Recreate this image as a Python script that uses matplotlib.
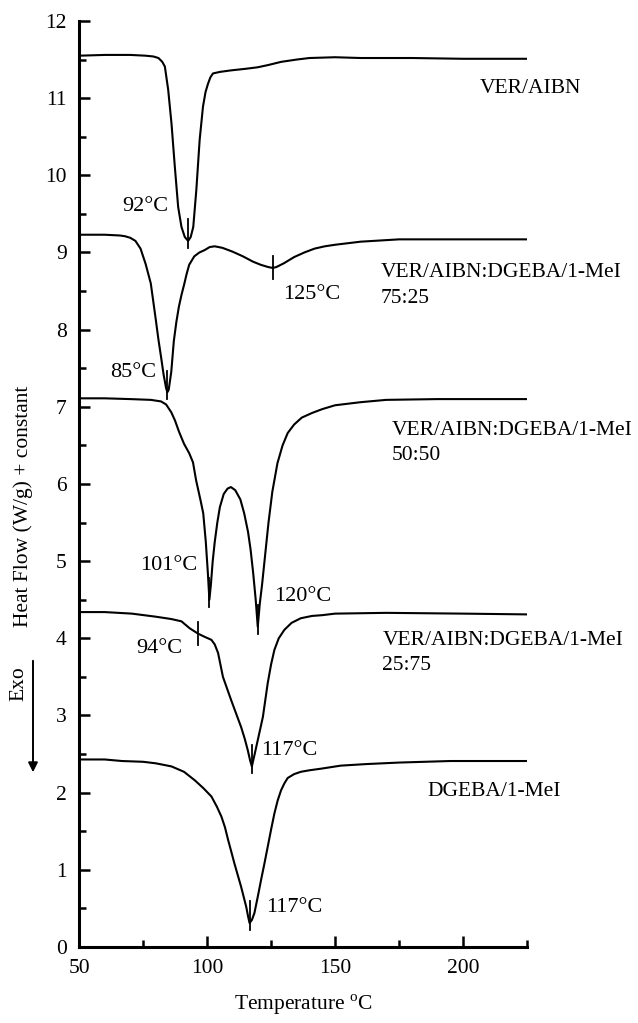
import numpy as np
import matplotlib
matplotlib.use("Agg")
import matplotlib.pyplot as plt

plt.rcParams['font.family'] = ['Liberation Serif', 'DejaVu Serif']
plt.rcParams['mathtext.fontset'] = 'custom'
plt.rcParams['mathtext.rm'] = 'Liberation Serif'

# --- curves (temperature, heat flow + constant) ---
t_ver = [50, 60, 70, 76, 79, 81, 82.5, 83.5, 84.8, 86.1, 87.4, 88.7, 90, 91.3, 92.6, 93.6, 94.6, 95.8,
         97.1, 98.4, 99.4, 100.4, 101.3, 102.3, 105, 109.4, 115, 119.8, 124, 128.9, 135, 140, 150, 160,
         180, 200, 225]
hf_ver = [11.55, 11.56, 11.56, 11.55, 11.54, 11.52, 11.47, 11.41, 11.11, 10.67, 10.11, 9.59, 9.33, 9.2,
          9.15, 9.2, 9.33, 9.81, 10.46, 10.89, 11.08, 11.19, 11.27, 11.32, 11.34, 11.36, 11.38, 11.40, 11.43,
          11.47, 11.5, 11.52, 11.53, 11.52, 11.52, 11.51, 11.51]

t_75 = [50, 60, 66, 68, 70, 72, 74, 76, 78, 80, 81, 82, 83, 84, 84.5, 85, 86, 87, 88, 89, 90, 91, 92, 93,
        95, 97, 99, 101, 103, 106, 110, 114, 118, 121, 124, 125.6, 127, 130, 134, 138, 142, 146, 150, 160,
        175, 200, 225]
hf_75 = [9.23, 9.23, 9.22, 9.21, 9.19, 9.15, 9.05, 8.85, 8.6, 8.12, 7.87, 7.65, 7.42, 7.24, 7.19, 7.22, 7.45,
         7.85, 8.1, 8.3, 8.45, 8.58, 8.72, 8.84, 8.95, 9.0, 9.03, 9.07, 9.08, 9.06, 9.01, 8.95, 8.88, 8.84,
         8.81, 8.80, 8.81, 8.86, 8.94, 9.0, 9.05, 9.08, 9.1, 9.14, 9.17, 9.17, 9.17]

t_50 = [50, 60, 70, 78, 82, 84, 86, 87.5, 89, 91, 93, 94.5, 95.7, 97.5, 98.5, 99.5, 100.3, 100.9, 101.5,
        102.2, 103, 104, 105, 106.5, 108, 109.3, 111, 113, 114.5, 116, 117, 118, 119, 119.8, 120.6, 121.5,
        122.5, 124, 125.5, 127.5, 129.5, 131.5, 134, 137, 141, 145, 150, 160, 170, 190, 225]
hf_50 = [7.11, 7.11, 7.10, 7.09, 7.07, 7.03, 6.93, 6.82, 6.68, 6.52, 6.4, 6.28, 6.05, 5.78, 5.62, 5.25, 4.85,
         4.5, 4.7, 5.0, 5.25, 5.5, 5.7, 5.87, 5.94, 5.96, 5.92, 5.8, 5.62, 5.38, 5.15, 4.85, 4.5, 4.15, 4.45,
         4.7, 5.02, 5.5, 5.9, 6.27, 6.5, 6.66, 6.77, 6.86, 6.92, 6.97, 7.02, 7.06, 7.09, 7.1, 7.1]

t_25 = [50, 60, 70.6, 80, 86, 90, 93.2, 96.5, 99, 101.7, 103, 104.3, 106.2, 107.8, 109.4, 111.4, 113.3, 114.7,
        115.9, 116.8, 117.5, 118.6, 119.8, 121.8, 123.7, 125, 126.3, 128, 130.2, 133, 136.6, 141, 145, 150,
        170, 200, 225]
hf_25 = [4.34, 4.34, 4.32, 4.28, 4.25, 4.22, 4.13, 4.06, 4.02, 3.98, 3.92, 3.81, 3.50, 3.35, 3.20, 3.02, 2.85,
         2.70, 2.55, 2.42, 2.34, 2.5, 2.68, 2.98, 3.42, 3.66, 3.85, 4.0, 4.11, 4.2, 4.26, 4.29, 4.3, 4.32, 4.33,
         4.32, 4.31]

t_dg = [50, 60, 66.7, 75, 80, 86.1, 91, 95.2, 98.5, 101.7, 103.8, 105.6, 107, 108.2, 109.5, 110.7, 112,
        113.3, 114.3, 115.3, 116, 116.6, 117.5, 118.5, 119.8, 121.1, 122.4, 123.7, 125, 126.3, 127.6, 128.9,
        130.2, 131.5, 134, 136.6, 140, 144.4, 152.2, 162, 175, 195, 225]
hf_dg = [2.43, 2.43, 2.41, 2.40, 2.38, 2.34, 2.27, 2.16, 2.06, 1.95, 1.82, 1.69, 1.55, 1.39, 1.23, 1.08, 0.93,
         0.78, 0.65, 0.52, 0.4, 0.31, 0.35, 0.44, 0.65, 0.87, 1.08, 1.30, 1.52, 1.73, 1.9, 2.03, 2.12, 2.19,
         2.24, 2.27, 2.29, 2.31, 2.35, 2.37, 2.39, 2.41, 2.41]

# peak markers: (curve index, drawn position, label text)
peak_curve = [0, 1, 1, 2, 2, 3, 3, 4]
peak_pos = [92.6, 84.5, 125.6, 100.9, 119.8, 96.5, 117.5, 116.6]
peak_text = ['92°C', '85°C', '125°C', '101°C', '120°C', '94°C', '117°C', '117°C']
peak_cross = [False, False, True, False, False, True, False, False]

sample_names = ['VER/AIBN', 'VER/AIBN:DGEBA/1-MeI\n75:25', 'VER/AIBN:DGEBA/1-MeI\n50:50',
                'VER/AIBN:DGEBA/1-MeI\n25:75', 'DGEBA/1-MeI']

curves = [(t_ver, hf_ver), (t_75, hf_75), (t_50, hf_50), (t_25, hf_25), (t_dg, hf_dg)]

# label placement (data coords)
peak_lx = [66.7, 62.0, 129.6, 73.7, 126.1, 72.5, 121.1, 123.0]
peak_ly = [9.59, 7.45, 8.45, 4.95, 4.54, 3.87, 2.54, 0.51]
name_lx = [206.6, 167.7, 172.0, 168.5, 186.0]
name_ly = [11.25, 8.86, 6.82, 4.10, 2.14]

fig = plt.figure(figsize=(6.38, 10.23), dpi=100)
ax = fig.add_axes([0.124, 0.0743, 0.702, 0.9052])

for t, hf in curves:
    ax.plot(t, hf, color='black', lw=1.5)

for ci, xp, cross in zip(peak_curve, peak_pos, peak_cross):
    t, hf = curves[ci]
    yp = np.interp(xp, t, hf)
    if cross:
        ax.plot([xp, xp], [yp - 0.15, yp + 0.15], color='black', lw=1.3)
    else:
        ax.plot([xp, xp], [yp - 0.09, yp + 0.28], color='black', lw=1.3)

for txt, lx, ly in zip(peak_text, peak_lx, peak_ly):
    ax.text(lx, ly, txt, fontsize=16, ha='left', va='center')

for name, lx, ly in zip(sample_names, name_lx, name_ly):
    ax.text(lx, ly, name, fontsize=15.5, ha='left', va='top', linespacing=1.45)

ax.set_xlim(50, 225)
ax.set_ylim(0, 12)
ax.set_xticks([50, 100, 150, 200])
ax.set_xticks([75, 125, 175, 225], minor=True)
ax.set_yticks(range(0, 13))
ax.set_yticks(np.arange(0.5, 12, 1), minor=True)
ax.tick_params(which='both', direction='in', width=1.8, labelsize=15.5)
ax.tick_params(which='major', length=8)
ax.tick_params(which='minor', length=5)
ax.tick_params(axis='y', pad=9)
ax.tick_params(axis='x', pad=9)
for s in ['top', 'right']:
    ax.spines[s].set_visible(False)
for s in ['left', 'bottom']:
    ax.spines[s].set_linewidth(2.2)

fig.text(0.475, 0.018, r'Temperature $^{\rm o}$C', fontsize=15.5, ha='center', va='center')
fig.text(0.036, 1 - 506 / 1023, 'Heat Flow (W/g) + constant', fontsize=15.5, rotation=90,
         ha='center', va='center')
fig.text(0.03, 1 - 684 / 1023, 'Exo', fontsize=15.5, rotation=90, ha='center', va='center')
fig.add_artist(matplotlib.patches.FancyArrowPatch((33 / 638, 1 - 658 / 1023), (33 / 638, 1 - 775 / 1023),
                                                  transform=fig.transFigure, arrowstyle='-|>',
                                                  mutation_scale=14, color='black', lw=1.4))

fig.savefig('out.png', dpi=100)
